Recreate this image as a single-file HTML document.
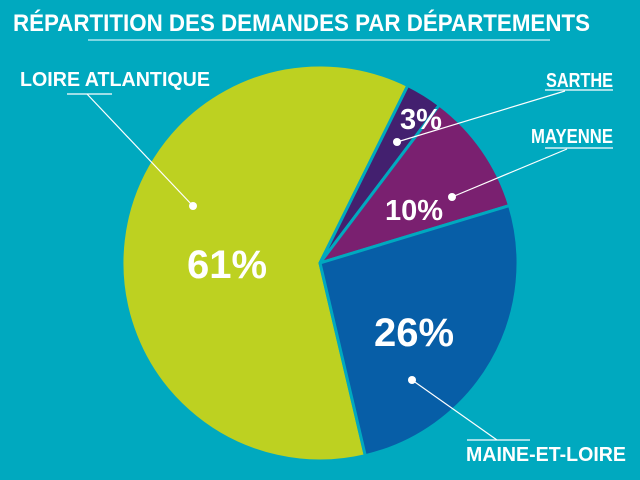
<!DOCTYPE html>
<html><head><meta charset="utf-8"><style>
html,body{margin:0;padding:0;background:#00a9bf;}
svg{display:block;font-family:"Liberation Sans",sans-serif;font-weight:bold;}
</style></head><body>
<svg width="640" height="480" viewBox="0 0 640 480">
<rect width="640" height="480" fill="#00a9bf"/>
<text x="13" y="31" font-size="24" fill="#fff" textLength="577" lengthAdjust="spacingAndGlyphs">RÉPARTITION DES DEMANDES PAR DÉPARTEMENTS</text>
<line x1="88" y1="40" x2="550" y2="40" stroke="#7fd6e2" stroke-width="2"/>
<g stroke="#00a9bf" stroke-width="3" stroke-linejoin="round">
<path d="M320,263 L407.8,85.5 A198,198 0 1,0 365.3,455.7 Z" fill="#bdd121"/>
<path d="M320,263 L407.8,85.5 A198,198 0 0,1 439.3,105.0 Z" fill="#43206f"/>
<path d="M320,263 L439.3,105.0 A198,198 0 0,1 509.5,205.5 Z" fill="#7a2070"/>
<path d="M320,263 L509.5,205.5 A198,198 0 0,1 365.3,455.7 Z" fill="#075ea7"/>
</g>
<g fill="#fff">
<text x="227" y="278" font-size="40" text-anchor="middle">61%</text>
<text x="414" y="346" font-size="40" text-anchor="middle">26%</text>
<text x="414" y="220" font-size="29" text-anchor="middle">10%</text>
<text x="421" y="129" font-size="29" text-anchor="middle">3%</text>
<text x="20" y="86" font-size="20" textLength="190" lengthAdjust="spacingAndGlyphs">LOIRE ATLANTIQUE</text>
<text x="546" y="87" font-size="20" textLength="67" lengthAdjust="spacingAndGlyphs">SARTHE</text>
<text x="531" y="143" font-size="20" textLength="82" lengthAdjust="spacingAndGlyphs">MAYENNE</text>
<text x="466" y="461" font-size="20" textLength="160" lengthAdjust="spacingAndGlyphs">MAINE-ET-LOIRE</text>
<circle cx="193" cy="206" r="4"/>
<circle cx="397" cy="142" r="4"/>
<circle cx="452" cy="197" r="4"/>
<circle cx="412" cy="380" r="4"/>
</g>
<g stroke="#fff" stroke-width="1.2" fill="none">
<polyline points="67,94 112,94"/><line x1="87" y1="94" x2="193" y2="206"/>
<polyline points="545,90 613,90"/><line x1="565" y1="91" x2="397" y2="142"/>
<polyline points="545,148 613,148"/><line x1="567" y1="149" x2="452" y2="197"/>
<polyline points="467,440 530,440"/><line x1="497" y1="440" x2="412" y2="380"/>
</g>
</svg>
</body></html>
